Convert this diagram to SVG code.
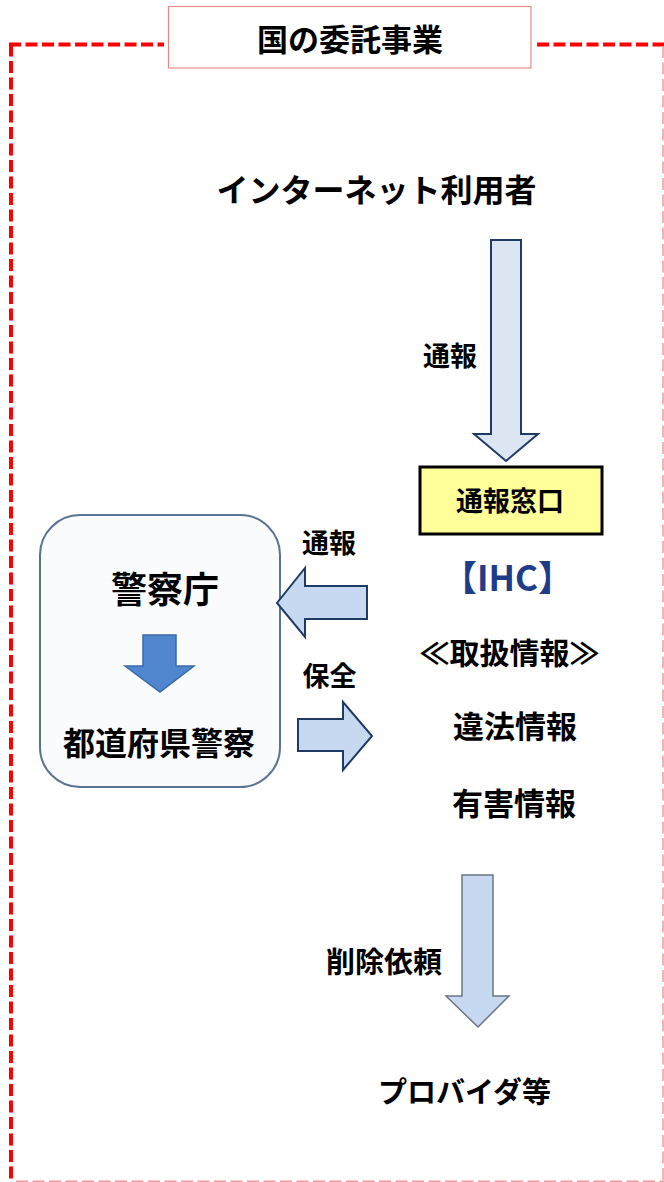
<svg xmlns="http://www.w3.org/2000/svg" width="664" height="1182" viewBox="0 0 664 1182">
<style>
text{font-family:"Noto Sans CJK JP","Noto Sans CJK SC",sans-serif;font-weight:700;fill:#000;text-anchor:middle}
.arr{fill:#c6d9f1;stroke:#1f3b63;stroke-width:2;stroke-linejoin:miter}
</style>
<rect width="664" height="1182" fill="#fff"/>
<g id="frame">
<line x1="11" y1="44.5" x2="11" y2="1182" stroke="#ff0000" stroke-width="4" stroke-dasharray="12 4.5"/>
<line x1="9" y1="44.5" x2="664" y2="44.5" stroke="#ff0000" stroke-width="4" stroke-dasharray="12 4.5"/>
<line x1="663" y1="46" x2="663" y2="1182" stroke="#f29a9a" stroke-width="1.5" stroke-dasharray="12 4.5"/>
<line x1="16" y1="1181.2" x2="664" y2="1181.2" stroke="#f29a9a" stroke-width="1.5" stroke-dasharray="12 4.5"/>
</g>
<g id="title">
<rect x="164" y="30" width="372" height="30" fill="#fff"/>
<rect x="168.5" y="6.5" width="362.5" height="61.5" fill="#fff" stroke="#e98a8a" stroke-width="1.2"/>
<text x="350" y="51" font-size="31">国の委託事業</text>
</g>
<g id="internet-users"><text x="376.5" y="202" font-size="32">インターネット利用者</text></g>
<g id="window">
<rect x="420" y="467" width="182" height="67" fill="#ffff99" stroke="#000" stroke-width="3"/>
<text x="510" y="511" font-size="27">通報窓口</text>
</g>
<g id="police">
<rect x="40" y="515" width="240" height="272" rx="40" ry="40" fill="#fafbfd" stroke="#5a7394" stroke-width="2"/>
<text x="165" y="602.5" font-size="36">警察庁</text>
<path d="M143,635 H176 V666 H194 L160,692 L125,666 H143 Z" fill="#4f86cf" stroke="#3b6aa6" stroke-width="1.5"/>
<text x="159" y="755" font-size="32">都道府県警察</text>
</g>
<g id="ihc">
<text x="507.5" y="591" font-size="35" style="fill:#1f3c88">【IHC】</text>
<text x="509.5" y="664" font-size="30">≪取扱情報≫</text>
<text x="515" y="738" font-size="31">違法情報</text>
<text x="514" y="815" font-size="31">有害情報</text>
</g>
<g id="provider"><text x="464.5" y="1103" font-size="29">プロバイダ等</text></g>
<g id="connectors">
<path class="arr" style="fill:#dce6f2" d="M491,240 H521 V434 H538 L506,461 L474,434 H491 Z"/>
<text x="450" y="366" font-size="27">通報</text>
<path class="arr" d="M367,586 V619 H305 V637 L277,603 L305,568 V586 Z"/>
<text x="329" y="553" font-size="27">通報</text>
<path class="arr" d="M298,719 H343 V702 L372,736 L343,770 V751 H298 Z"/>
<text x="329.5" y="686" font-size="27">保全</text>
<path class="arr" style="stroke:#6b7585;stroke-width:1.5" d="M462,875 H493 V996 H509 L478,1027 L446,996 H462 Z"/>
<text x="384" y="973" font-size="29">削除依頼</text>
</g>
</svg>
